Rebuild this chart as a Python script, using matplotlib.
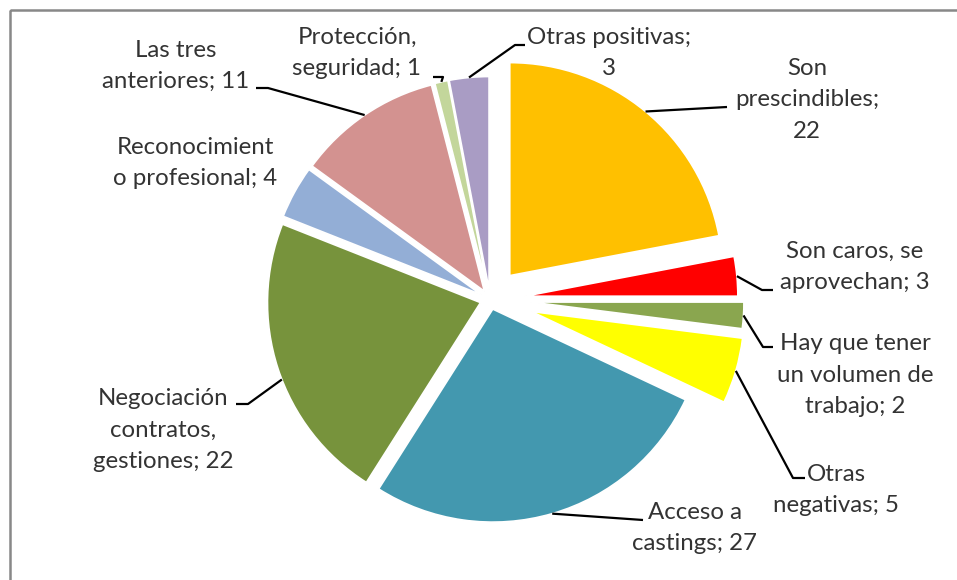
import numpy as np
import matplotlib
matplotlib.use("Agg")
import matplotlib.pyplot as plt
from matplotlib.patches import Rectangle

# Datos del gráfico (sentido horario desde las 12)
categorias = ["Son prescindibles", "Son caros, se aprovechan", "Hay que tener un volumen de trabajo",
              "Otras negativas", "Acceso a castings", "Negociación contratos, gestiones",
              "Reconocimiento profesional", "Las tres anteriores", "Protección, seguridad",
              "Otras positivas"]
valores = [22, 3, 2, 5, 27, 22, 4, 11, 1, 3]
# texto de las etiquetas tal como se corta en el original
textos = ["Son\nprescindibles;\n{}", "Son caros, se\naprovechan; {}", "Hay que tener\nun volumen de\ntrabajo; {}",
          "Otras\nnegativas; {}", "Acceso a\ncastings; {}", "Negociación\ncontratos,\ngestiones; {}",
          "Reconocimient\no profesional; {}", "Las tres\nanteriores; {}", "Protección,\nseguridad; {}",
          "Otras positivas;\n{}"]
colores = ["#FFC000", "#FF0000", "#8AA64F", "#FFFF00", "#4398AF", "#77933C",
           "#93AED6", "#D39290", "#C3D69B", "#A99CC4"]

# Disposición (pixeles de la imagen)
centro = (490, 299.5)
R = 213
desp = [31, 35, 41, 43, 10, 10, 10, 10, 10, 10]
pos_texto = [(807, 100), (855, 267), (855, 375), (836, 490), (695, 528),
             (163, 430), (195, 163), (176, 66), (357, 53), (609, 53)]
guias = [[(727, 107)], [(762, 290), (773, 290)], [(763, 347), (773, 347)],
         [(793, 478), (805, 478)], [(643, 520)], [(248, 404), (236, 404)],
         None, [(268, 88), (256, 88)], [(443, 77), (433, 77)], [(515, 45), (525, 45)]]
anclaje = [0.5, 0.5, 0.5, 0.5, 0.5, 0.46, 0.5, 0.5, 0.5, 0.5]

fig = plt.figure(figsize=(9.57, 5.8), dpi=100)
ax = fig.add_axes([0, 0, 1, 1])

wedges, _ = ax.pie(valores, explode=desp, colors=colores, startangle=-90, counterclock=True,
                   radius=R, center=centro,
                   wedgeprops=dict(edgecolor="white", linewidth=1.2))

ax.set_xlim(0, 957)
ax.set_ylim(580, 0)
ax.set_aspect("equal")
ax.axis("off")

for w, v, t, p, g, f in zip(wedges, valores, textos, pos_texto, guias, anclaje):
    ax.text(p[0], p[1], t.format(v), ha="center", va="center", multialignment="center",
            fontsize=17.3, family="Lato", color="#333333", linespacing=1.6)
    if g is None:
        continue
    ang = np.deg2rad(w.theta1 + f * (w.theta2 - w.theta1))
    x0 = w.center[0] + w.r * np.cos(ang)
    y0 = w.center[1] + w.r * np.sin(ang)
    xs = [x0] + [q[0] for q in g]
    ys = [y0] + [q[1] for q in g]
    ax.plot(xs, ys, color="black", lw=1.6, solid_capstyle="butt")

# marco del área del gráfico
ax.add_patch(Rectangle((10, 10), 1000, 1000, fill=False, edgecolor="#888888", lw=1.8))

fig.savefig("out.png", dpi=100)
